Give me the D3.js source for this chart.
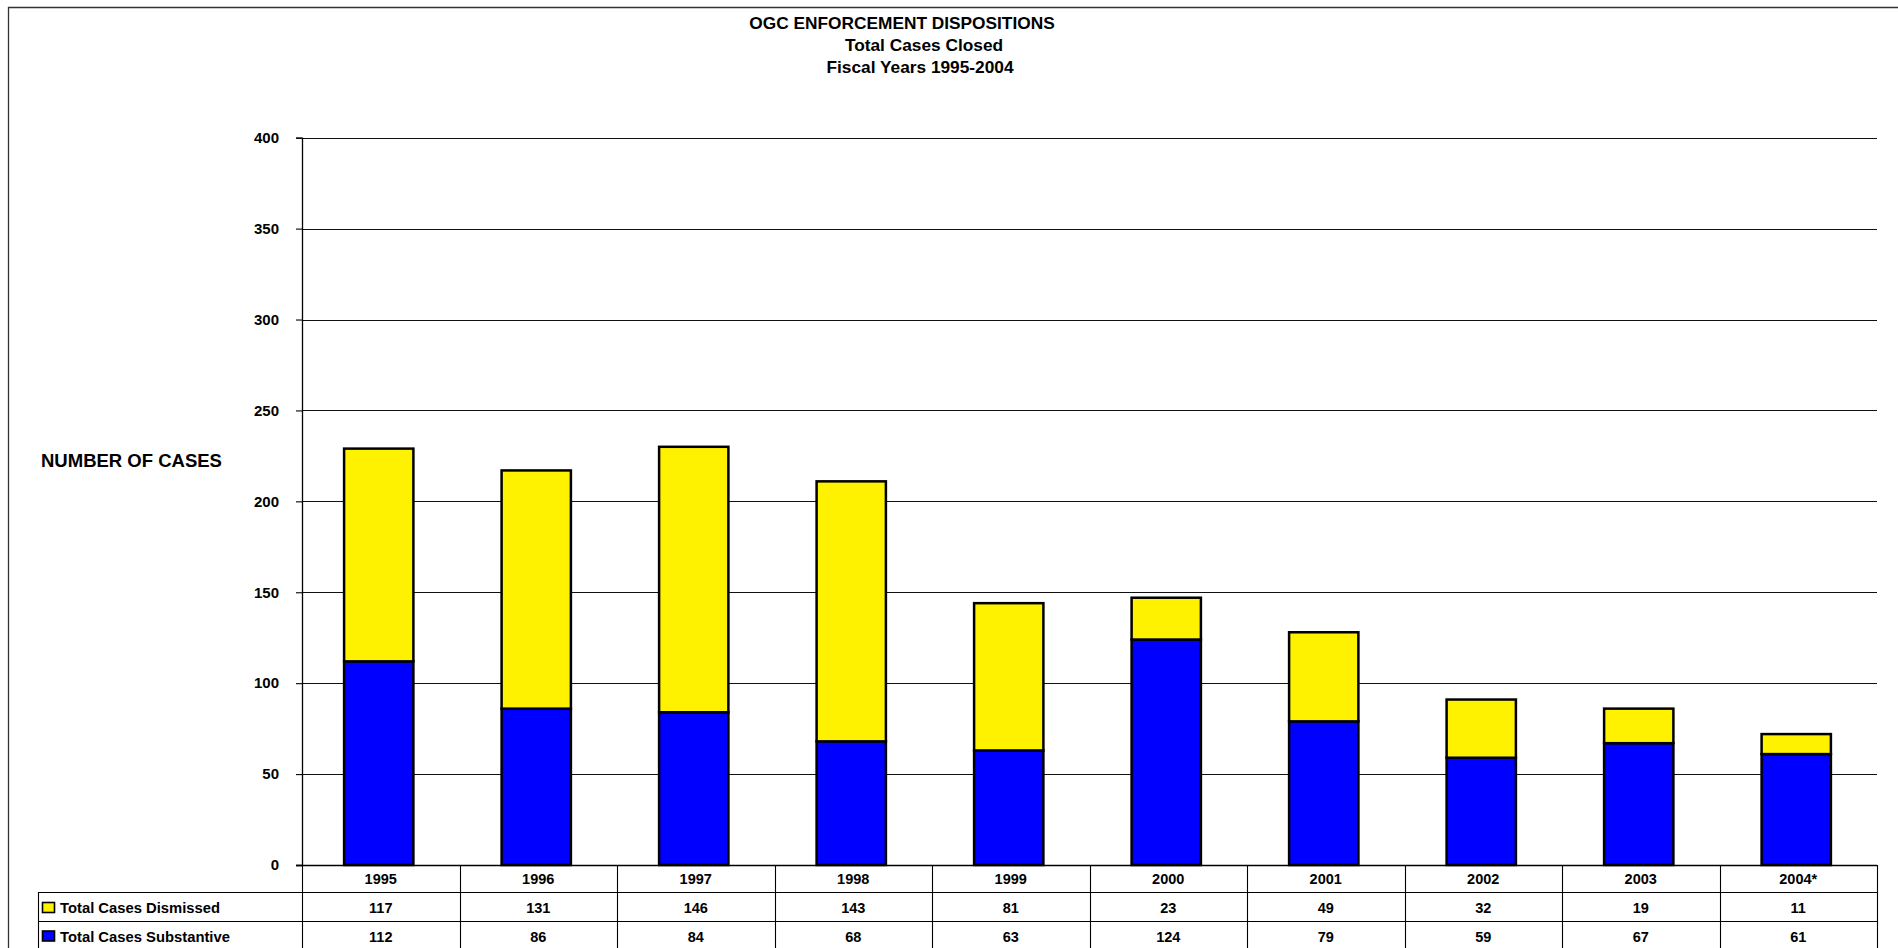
<!DOCTYPE html>
<html>
<head>
<meta charset="utf-8">
<script src="https://cdn.jsdelivr.net/npm/d3@7"></script>
<style>
  html, body { margin: 0; padding: 0; background: #fff; }
  svg { display: block; font-family: "Liberation Sans", Arial, Helvetica, sans-serif; font-weight: bold; }
</style>
</head>
<body>
<svg id="chart" width="1898" height="948"></svg>
<script>
// Fiscal years and case counts
const years = ["1995", "1996", "1997", "1998", "1999", "2000", "2001", "2002", "2003", "2004*"];
const dismissed = [117, 131, 146, 143, 81, 23, 49, 32, 19, 11];
const substantive = [112, 86, 84, 68, 63, 124, 79, 59, 67, 61];
const yTicks = [0, 50, 100, 150, 200, 250, 300, 350, 400];
const titleLines = ["OGC ENFORCEMENT DISPOSITIONS", "Total Cases Closed", "Fiscal Years 1995-2004"];
const seriesNames = ["Total Cases Dismissed", "Total Cases Substantive"];

const colors = { dismissed: "#FFF200", substantive: "#0000FF" };

const svg = d3.select("#chart");
const W = 1898, H = 948;

// plot region
const plot = { left: 302, right: 1877, top: 137.7, bottom: 865 };

const x = d3.scaleBand().domain(years).range([plot.left, plot.right]).padding(0);
const y = d3.scaleLinear().domain([0, 400]).range([plot.bottom, plot.top]);

// outer frame (top and left edges)
svg.append("path")
  .attr("d", `M8.5,${H} L8.5,7.5 L${W},7.5`)
  .attr("fill", "none").attr("stroke", "#333").attr("stroke-width", 1.3);

// title
const titleX = [902, 924, 920];
const titleY = [29, 51, 73];
svg.append("g").selectAll("text").data(titleLines).join("text")
  .attr("x", (d, i) => titleX[i])
  .attr("y", (d, i) => titleY[i])
  .attr("text-anchor", "middle")
  .attr("font-size", 17.3)
  .attr("fill", "#000")
  .text(d => d);

// y-axis title
svg.append("text")
  .attr("x", 41).attr("y", 466.5)
  .attr("font-size", 18.5)
  .attr("fill", "#000")
  .text("NUMBER OF CASES");

// gridlines
svg.append("g").selectAll("line").data(yTicks.filter(t => t > 0)).join("line")
  .attr("x1", plot.left).attr("x2", plot.right)
  .attr("y1", d => Math.round(y(d)) + 0.5).attr("y2", d => Math.round(y(d)) + 0.5)
  .attr("stroke", "#111").attr("stroke-width", 1.1);

// y axis
const yAxis = d3.axisLeft(y).tickValues(yTicks).tickSize(6).tickPadding(17);
const gy = svg.append("g").attr("transform", `translate(${plot.left},0)`).call(yAxis);
gy.select(".domain").attr("stroke", "#000").attr("stroke-width", 1.3);
gy.selectAll(".tick line").attr("stroke", "#000").attr("stroke-width", 1.1);
gy.selectAll(".tick text")
  .attr("font-size", 15).attr("font-weight", "bold")
  .attr("font-family", "Liberation Sans, Arial, sans-serif")
  .attr("fill", "#000");

// stacked bars
const stackData = years.map((yr, i) => ({ year: yr, substantive: substantive[i], dismissed: dismissed[i] }));
const stack = d3.stack().keys(["substantive", "dismissed"])(stackData);
const barW = x.bandwidth() * 0.44;
const barX = d => x(d.data.year) + (x.bandwidth() - barW) / 2 - 2;

svg.append("g").selectAll("g").data(stack).join("g")
  .attr("fill", s => colors[s.key])
  .selectAll("rect").data(s => s).join("rect")
  .attr("x", barX)
  .attr("y", d => y(d[1]))
  .attr("width", barW)
  .attr("height", d => y(d[0]) - y(d[1]))
  .attr("stroke", "#000")
  .attr("stroke-width", 2.5);

// data table below the axis
const rowLines = [892, 921];
const tableLeft = 38.5;
const t = svg.append("g").attr("stroke", "#000").attr("stroke-width", 1.1);
// x axis baseline
t.append("line").attr("x1", plot.left - 6).attr("x2", plot.right)
  .attr("y1", plot.bottom + 0.5).attr("y2", plot.bottom + 0.5).attr("stroke-width", 1.3);
rowLines.forEach(ry => {
  t.append("line").attr("x1", tableLeft).attr("x2", plot.right)
    .attr("y1", ry + 0.5).attr("y2", ry + 0.5);
});
t.append("line").attr("x1", tableLeft).attr("x2", tableLeft)
  .attr("y1", rowLines[0]).attr("y2", H);
const colEdges = years.map(yr => x(yr)).concat([plot.right]);
t.selectAll(".col").data(colEdges).join("line")
  .attr("class", "col")
  .attr("x1", d => Math.round(d) + 0.5).attr("x2", d => Math.round(d) + 0.5)
  .attr("y1", plot.bottom).attr("y2", H);

// year labels
svg.append("g").selectAll("text").data(years).join("text")
  .attr("x", d => x(d) + x.bandwidth() / 2)
  .attr("y", 884)
  .attr("text-anchor", "middle")
  .attr("font-size", 14.5)
  .attr("fill", "#000")
  .text(d => d);

// value rows
const rows = [
  { name: seriesNames[0], values: dismissed, color: colors.dismissed, base: 913 },
  { name: seriesNames[1], values: substantive, color: colors.substantive, base: 941.5 }
];
rows.forEach(r => {
  const g = svg.append("g");
  g.append("rect")
    .attr("x", 42.5).attr("y", r.base - 10.5)
    .attr("width", 12).attr("height", 10)
    .attr("fill", r.color).attr("stroke", "#000").attr("stroke-width", 1.6);
  g.append("text")
    .attr("x", 60).attr("y", r.base)
    .attr("font-size", 14.8).attr("fill", "#000")
    .text(r.name);
  g.selectAll(".v").data(r.values).join("text")
    .attr("class", "v")
    .attr("x", (d, i) => x(years[i]) + x.bandwidth() / 2)
    .attr("y", r.base)
    .attr("text-anchor", "middle")
    .attr("font-size", 14.5)
    .attr("fill", "#000")
    .text(d => d);
});
</script>
</body>
</html>
